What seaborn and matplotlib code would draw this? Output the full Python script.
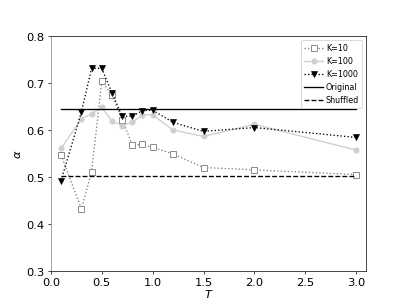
import numpy as np
import seaborn as sns
import matplotlib.pyplot as plt

# -------------------------------
# data
# -------------------------------
temps = [0.1, 0.3, 0.4, 0.5, 0.6, 0.7, 0.8, 0.9, 1.0, 1.2, 1.5, 2.0, 3.0]
alpha_k10 = [0.548, 0.433, 0.511, 0.704, 0.675, 0.623, 0.569, 0.570, 0.564, 0.550, 0.521, 0.516, 0.506]
alpha_k100 = [0.562, 0.624, 0.635, 0.649, 0.620, 0.610, 0.617, 0.633, 0.633, 0.601, 0.587, 0.613, 0.558]
alpha_k1000 = [0.493, 0.639, 0.732, 0.732, 0.680, 0.630, 0.630, 0.642, 0.643, 0.617, 0.598, 0.606, 0.585]
original_alpha = 0.645
shuffled_alpha = 0.504
span = [temps[0], temps[-1]]

# -------------------------------
# plot
# -------------------------------
fig, ax = plt.subplots(figsize=(6.4, 4.8), dpi=63.6)

sns.lineplot(x=temps, y=alpha_k10, ax=ax, color="gray", linestyle=":",
             marker="s", markerfacecolor="white", markeredgecolor="gray",
             markeredgewidth=1.0, markersize=6, label="K=10")
sns.lineplot(x=temps, y=alpha_k100, ax=ax, color="#cfcfcf", linestyle="-",
             marker="o", markerfacecolor="#cfcfcf", markeredgecolor="#cfcfcf",
             markersize=6, label="K=100")
sns.lineplot(x=temps, y=alpha_k1000, ax=ax, color="black", linestyle=":",
             marker="v", markerfacecolor="black", markeredgecolor="black",
             markersize=7, label="K=1000")
sns.lineplot(x=span, y=[original_alpha] * 2, ax=ax, color="black",
             linestyle="-", label="Original")
sns.lineplot(x=span, y=[shuffled_alpha] * 2, ax=ax, color="black",
             linestyle="--", label="Shuffled")

ax.set_xlim(0, 3.1)
ax.set_ylim(0.3, 0.8)
ax.set_xticks(np.arange(0, 3.01, 0.5))
ax.set_yticks(np.arange(0.3, 0.81, 0.1))
ax.tick_params(labelsize=13)
ax.set_xlabel(r"$T$", fontsize=13, labelpad=0)
ax.set_ylabel(r"$\alpha$", fontsize=13)
ax.spines["left"].set_color("gray")

ax.legend(loc="upper right", fontsize=9, handlelength=2.3, handletextpad=0.4)

plt.savefig("out.png", dpi=63.6)
